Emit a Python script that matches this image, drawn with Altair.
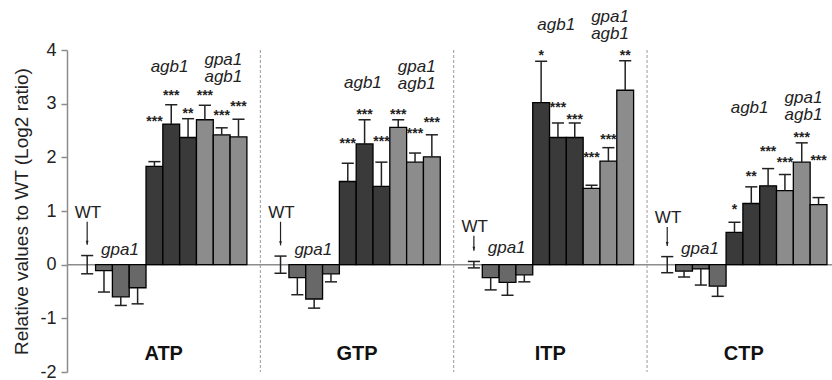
import altair as alt
import pandas as pd

# ---------------- data ----------------
nucleotides = ["ATP", "GTP", "ITP", "CTP"]
genotypes = ["WT", "gpa1", "gpa1", "gpa1", "agb1", "agb1", "agb1",
             "gpa1 agb1", "gpa1 agb1", "gpa1 agb1"]

atp_vals = [0, -0.11, -0.60, -0.43, 1.83, 2.62, 2.37, 2.70, 2.42, 2.38]
atp_err = [0.17, 0.40, 0.16, 0.30, 0.09, 0.36, 0.35, 0.27, 0.13, 0.33]
gtp_vals = [0, -0.24, -0.64, -0.17, 1.55, 2.25, 1.46, 2.56, 1.91, 2.01]
gtp_err = [0.16, 0.32, 0.17, 0.15, 0.34, 0.45, 0.45, 0.14, 0.17, 0.41]
itp_vals = [0, -0.24, -0.33, -0.19, 3.02, 2.37, 2.37, 1.42, 1.93, 3.25]
itp_err = [0.06, 0.23, 0.24, 0.13, 0.77, 0.27, 0.27, 0.06, 0.25, 0.55]
ctp_vals = [0, -0.12, -0.08, -0.40, 0.60, 1.14, 1.47, 1.38, 1.91, 1.12]
ctp_err = [0.15, 0.11, 0.30, 0.19, 0.19, 0.31, 0.32, 0.30, 0.36, 0.13]

atp_sig = ["", "", "", "", "***", "***", "**", "***", "***", "***"]
gtp_sig = ["", "", "", "", "***", "***", "***", "***", "***", "***"]
itp_sig = ["", "", "", "", "*", "***", "***", "***", "***", "**"]
ctp_sig = ["", "", "", "", "*", "**", "***", "***", "***", "***"]

# height (data units) at which each significance mark sits
atp_sig_y = [0, 0, 0, 0, 2.73, 3.21, 2.89, 3.21, 2.85, 3.02]
gtp_sig_y = [0, 0, 0, 0, 2.33, 2.87, 2.36, 2.87, 2.51, 2.72]
itp_sig_y = [0, 0, 0, 0, 3.97, 3.00, 2.77, 2.07, 2.39, 3.97]
ctp_sig_y = [0, 0, 0, 0, 1.09, 1.71, 2.18, 1.97, 2.43, 2.01]

# genotype annotation heights (data units) per panel
wt_label_y = [0.97, 0.97, 0.71, 0.87]
gpa1_label_y = [0.28, 0.28, 0.31, 0.29]
agb1_label_y = [3.69, 3.38, 4.47, 2.92]
double_label_y = [3.82, 3.69, 4.62, 3.10]
name_label_y = -1.66

y_title = "Relative values to WT (Log2 ratio)"
y_ticks = [-2, -1, 0, 1, 2, 3, 4]

# ---------------- build tables ----------------
vals = {"ATP": atp_vals, "GTP": gtp_vals, "ITP": itp_vals, "CTP": ctp_vals}
errs = {"ATP": atp_err, "GTP": gtp_err, "ITP": itp_err, "CTP": ctp_err}
sigs = {"ATP": atp_sig, "GTP": gtp_sig, "ITP": itp_sig, "CTP": ctp_sig}
sigy = {"ATP": atp_sig_y, "GTP": gtp_sig_y, "ITP": itp_sig_y, "CTP": ctp_sig_y}

PANEL = 11.5     # slot units per panel
FIRST = 1.2      # centre of first slot inside a panel
HALF = 0.5       # half bar width
CAP = 0.36       # half cap width
LINE = 0.32      # line spacing of the two-line label
XMAX = 45.5

bars, segs, caps, stars, labels, arrows, names = [], [], [], [], [], [], []
for p, nuc in enumerate(nucleotides):
    base = p * PANEL
    for i, g in enumerate(genotypes):
        v = vals[nuc][i]
        e = errs[nuc][i]
        xc = base + FIRST + i
        if g == "WT":
            segs.append(dict(x=xc, y=-e, y2=e))
            caps.append(dict(x=xc - CAP, x2=xc + CAP, y=e))
            caps.append(dict(x=xc - CAP, x2=xc + CAP, y=-e))
            continue
        bars.append(dict(x=xc - HALF, x2=xc + HALF, y=0, y2=v, geno=g))
        end = v + e if v >= 0 else v - e
        segs.append(dict(x=xc, y=v, y2=end))
        caps.append(dict(x=xc - CAP, x2=xc + CAP, y=end))
        if sigs[nuc][i]:
            stars.append(dict(x=xc, y=sigy[nuc][i], t=sigs[nuc][i]))
    labels.append(dict(x=base + 1.25, y=wt_label_y[p], t="WT", it=False))
    labels.append(dict(x=base + 3.15, y=gpa1_label_y[p], t="gpa1", it=True))
    labels.append(dict(x=base + 6.1, y=agb1_label_y[p], t="agb1", it=True))
    labels.append(dict(x=base + 9.3, y=double_label_y[p], t="gpa1", it=True))
    labels.append(dict(x=base + 9.3, y=double_label_y[p] - LINE, t="agb1", it=True))
    wt_err = errs[nuc][0]
    arrows.append(dict(x=base + FIRST, y=wt_label_y[p] - 0.17, y2=wt_err + 0.2))
    names.append(dict(x=base + PANEL / 2, y=name_label_y, t=nuc))

bars_df = pd.DataFrame(bars)
segs_df = pd.DataFrame(segs)
caps_df = pd.DataFrame(caps)
stars_df = pd.DataFrame(stars)
labels_df = pd.DataFrame(labels)
arrows_df = pd.DataFrame(arrows)
names_df = pd.DataFrame(names)
seps_df = pd.DataFrame(dict(x=[PANEL * k for k in range(1, 4)]))
zero_df = pd.DataFrame(dict(y=[0]))

FONT = "Liberation Sans"
xs = alt.Scale(domain=[0, XMAX], nice=False, zero=False)
ys = alt.Scale(domain=[-2, 4], nice=False, zero=False)
yaxis = alt.Axis(values=y_ticks, labelExpr="'' + datum.value", title=y_title)


def X(f):
    return alt.X(f, type="quantitative", scale=xs, axis=None)


def Y(f):
    return alt.Y(f, type="quantitative", scale=ys, axis=yaxis)


zero = alt.Chart(zero_df).mark_rule(
    color="#8c8c8c", strokeWidth=1.5).encode(y=Y("y"))

seps = alt.Chart(seps_df).mark_rule(
    color="#9a9a9a", strokeWidth=1, strokeDash=[3, 2]).encode(x=X("x"))

bar_layer = alt.Chart(bars_df).mark_bar(stroke="black", strokeWidth=1.3).encode(
    x=X("x"), x2="x2", y=Y("y"), y2="y2",
    fill=alt.Fill("geno:N", scale=alt.Scale(
        domain=["gpa1", "agb1", "gpa1 agb1"],
        range=["#686868", "#3a3a3a", "#8c8c8c"]), legend=None))

seg_layer = alt.Chart(segs_df).mark_rule(color="#222222", strokeWidth=1.5).encode(
    x=X("x"), y=Y("y"), y2="y2")
cap_layer = alt.Chart(caps_df).mark_rule(color="#222222", strokeWidth=1.5).encode(
    x=X("x"), x2="x2", y=Y("y"))

star_layer = alt.Chart(stars_df).mark_text(
    font=FONT, fontSize=14, fontWeight="bold", color="#222222",
    baseline="alphabetic", dy=8).encode(x=X("x"), y=Y("y"), text="t:N")

label_it = alt.Chart(labels_df[labels_df.it]).mark_text(
    font=FONT, fontSize=17, fontStyle="italic", color="#222222",
    baseline="middle").encode(x=X("x"), y=Y("y"), text="t:N")
label_wt = alt.Chart(labels_df[~labels_df.it]).mark_text(
    font=FONT, fontSize=17, color="#222222", baseline="middle").encode(
    x=X("x"), y=Y("y"), text="t:N")

arrow_line = alt.Chart(arrows_df).mark_rule(color="#222222", strokeWidth=1.2).encode(
    x=X("x"), y=Y("y"), y2="y2")
arrow_head = alt.Chart(arrows_df).mark_point(
    shape="M -0.35 -1 L 0.35 -1 L 0 0 Z", size=64, filled=True,
    color="#222222", opacity=1).encode(x=X("x"), y=Y("y2"))

name_layer = alt.Chart(names_df).mark_text(
    font=FONT, fontSize=20, fontWeight="bold", color="#111111",
    baseline="middle").encode(x=X("x"), y=Y("y"), text="t:N")

chart = alt.layer(zero, seps, bar_layer, seg_layer, cap_layer, star_layer,
                  label_it, label_wt, arrow_line, arrow_head, name_layer).properties(
    width=765, height=322,
    padding={"left": 67, "top": 50, "right": 0, "bottom": 8},
    autosize=alt.AutoSizeParams(type="none"),
    background="white",
).configure_view(stroke=None).configure_axisY(
    grid=False, domainColor="#8c8c8c", domainWidth=1.5, tickColor="#8c8c8c",
    tickWidth=1.5, tickSize=6, labelFont=FONT, labelFontSize=18,
    labelColor="#222222", labelPadding=5, titleFont=FONT, titleFontSize=19,
    titleFontWeight="normal", titleColor="#222222", titlePadding=8)

chart.save("out.html", embed_options={"renderer": "svg", "actions": False})
